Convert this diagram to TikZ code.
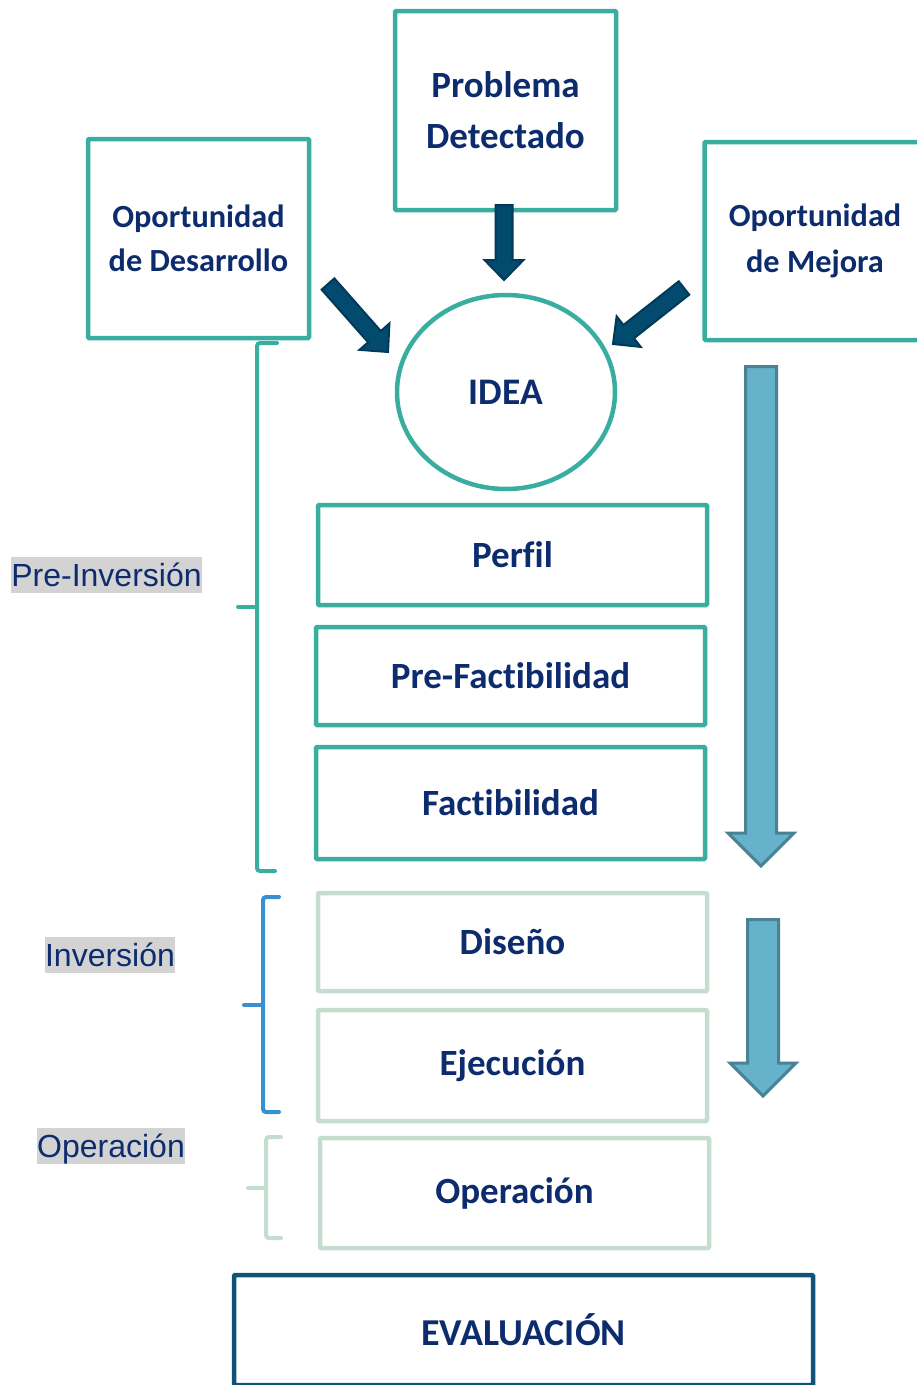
\documentclass[tikz,border=0pt]{standalone}
\usepackage{fontspec}
\usetikzlibrary{calc,shapes.geometric}
\newfontfamily\calfont[Ligatures={NoCommon}]{Carlito}
\newfontfamily\arialfont{Liberation Sans}
\definecolor{teal1}{HTML}{38ADA0}
\definecolor{lgreen}{HTML}{C4DDCF}
\definecolor{navytxt}{HTML}{0D2C6E}
\definecolor{evalb}{HTML}{0F5478}
\definecolor{darkfill}{HTML}{024B6E}
\definecolor{darkline}{HTML}{013A59}
\definecolor{bluefill}{HTML}{67B2CB}
\definecolor{blueline}{HTML}{4A8294}
\definecolor{bracebl}{HTML}{3990D0}
\definecolor{labgray}{HTML}{D3D3D3}
\newcommand{\fatarrow}[6]{%
  \coordinate (fa-h) at ($(#3)!#6pt!(#2)$);
  \draw[#1] ($(#2)!#4pt!90:(#3)$) -- ($(fa-h)!#4pt!90:(#3)$) -- ($(fa-h)!#5pt!90:(#3)$) -- (#3)
    -- ($(fa-h)!#5pt!-90:(#3)$) -- ($(fa-h)!#4pt!-90:(#3)$) -- ($(#2)!#4pt!-90:(#3)$) -- cycle;
}
\tikzset{
  tbox/.style={draw=teal1, line width=4.5pt, rectangle, rounded corners=1pt, text=navytxt,
    font=\calfont\bfseries\fontsize{37}{51}\selectfont, align=center, inner sep=0pt},
  gbox/.style={tbox, draw=lgreen},
  darrow/.style={fill=darkfill, draw=darkline, line width=2pt, line join=miter},
  barrow/.style={fill=bluefill, draw=blueline, line width=3pt, line join=miter},
  lab/.style={fill=labgray, text=navytxt, inner sep=0pt, text height=29.7pt, text depth=6.3pt,
    font=\arialfont\fontsize{32}{36}\selectfont},
  brace/.style={line width=4pt, rounded corners=3pt, line cap=round},
}
\begin{document}
\begin{tikzpicture}[x=1pt, y=-1pt]
\useasboundingbox (0,0) rectangle (917,1385);
\clip (0,0) rectangle (917,1385);

% top boxes
\node[tbox, minimum width=221pt, minimum height=199pt] (prob) at (505.5,110.5) {Problema\\Detectado};
\node[tbox, minimum width=221pt, minimum height=199pt,
  font=\calfont\bfseries\fontsize{32.3}{44}\selectfont] (desa) at (198.5,238.5) {Oportunidad\\de Desarrollo};
\node[tbox, minimum width=221pt, minimum height=198pt,
  font=\calfont\bfseries\fontsize{32.3}{46}\selectfont] (mejo) at (815,241) {Oportunidad\\de Mejora};

% idea
\node[ellipse, draw=teal1, line width=4.5pt, minimum width=218pt, minimum height=194pt,
  text=navytxt, font=\calfont\bfseries\fontsize{37.5}{41}\selectfont, inner sep=0pt] (idea) at (506,392) {IDEA};

% stage boxes
\node[tbox, minimum width=389pt, minimum height=100pt] (perfil) at (512.5,555) {Perfil};
\node[tbox, minimum width=389pt, minimum height=98pt] (prefac) at (510.5,676) {Pre-Factibilidad};
\node[tbox, minimum width=389pt, minimum height=112pt] (fac) at (510.5,803) {Factibilidad};
\node[gbox, minimum width=389pt, minimum height=98pt] (dis) at (512.5,942) {Diseño};
\node[gbox, minimum width=389pt, minimum height=111pt] (eje) at (512.5,1065.5) {Ejecución};
\node[gbox, minimum width=389pt, minimum height=110pt] (ope) at (514.5,1193) {Operación};
\node[tbox, draw=evalb, minimum width=579pt, minimum height=110pt,
  font=\calfont\bfseries\fontsize{38}{45}\selectfont] (eval) at (523.5,1330) {EVALUACIÓN};

% dark arrows into IDEA
\coordinate (a1s) at (504,205);
\coordinate (a1t) at (504,280);
\coordinate (a2s) at (328,284);
\coordinate (a2t) at (388,352);
\coordinate (a3s) at (684,288);
\coordinate (a3t) at (613,344);
\fatarrow{darrow}{a1s}{a1t}{8.5}{19.5}{20}
\fatarrow{darrow}{a2s}{a2t}{8.5}{20}{20.5}
\fatarrow{darrow}{a3s}{a3t}{8.5}{19.5}{20}

% big blue arrows
\coordinate (b1s) at (761,366.5);
\coordinate (b1t) at (761,866);
\coordinate (b2s) at (763,919.5);
\coordinate (b2t) at (763,1096);
\fatarrow{barrow}{b1s}{b1t}{15.5}{33}{33}
\fatarrow{barrow}{b2s}{b2t}{15.5}{33}{33}

% braces
\draw[brace, teal1] (277,343) -- (257,343) -- (257,871) -- (275,871);
\draw[brace, teal1] (257,607) -- (238,607);
\draw[brace, bracebl] (279,897) -- (263,897) -- (263,1112) -- (279,1112);
\draw[brace, bracebl] (263,1005) -- (244,1005);
\draw[brace, lgreen] (281,1137) -- (266,1137) -- (266,1238) -- (281,1238);
\draw[brace, lgreen] (266,1188) -- (248,1188);

% phase labels
\node[lab] (lpre) at (106.5,575) {Pre-Inversión};
\node[lab] (linv) at (110,955) {Inversión};
\node[lab] (lope) at (111,1146) {Operación};
\end{tikzpicture}
\end{document}
